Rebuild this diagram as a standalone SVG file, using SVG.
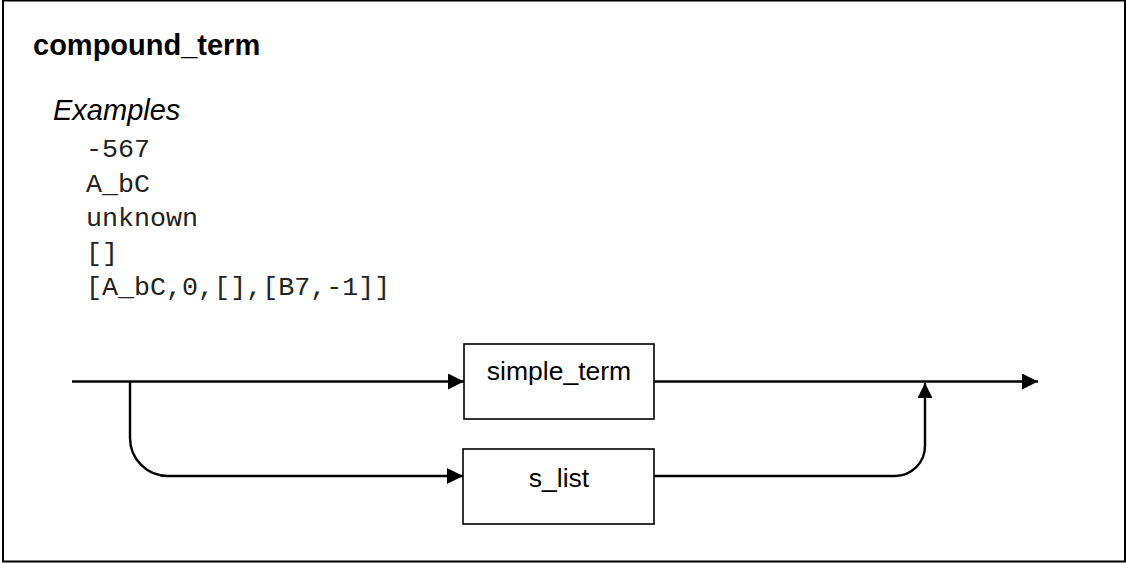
<svg xmlns="http://www.w3.org/2000/svg" width="1126" height="564" viewBox="0 0 1126 564">
  <style>
    .frame { fill: #ffffff; stroke: #000000; stroke-width: 2; }
    .box { fill: #ffffff; stroke: #000000; stroke-width: 1.6; }
    .wire { fill: none; stroke: #000000; stroke-width: 2.4; }
    .title { font-family: "Liberation Sans", Arial, sans-serif; font-weight: bold; font-size: 29px; fill: #000; }
    .ex { font-family: "Liberation Sans", Arial, sans-serif; font-style: italic; font-size: 29px; fill: #000; }
    .code { font-family: "Liberation Mono", "Courier New", monospace; font-size: 26.7px; fill: #222; }
    .label { font-family: "Liberation Sans", Arial, sans-serif; font-size: 26.5px; fill: #000; text-anchor: middle; }
  </style>
  <defs>
    <marker id="arrow" markerUnits="userSpaceOnUse" markerWidth="16" markerHeight="16" refX="16" refY="8" orient="auto" viewBox="0 0 16 16">
      <path d="M0,0 L16,8 L0,16 Z" fill="#000"/>
    </marker>
    <marker id="arrowS" markerUnits="userSpaceOnUse" markerWidth="15" markerHeight="15" refX="15" refY="7.5" orient="auto" viewBox="0 0 15 15">
      <path d="M0,0 L15,7.5 L0,15 Z" fill="#000"/>
    </marker>
  </defs>
  <rect width="1126" height="564" fill="#ffffff"/>
  <rect class="frame" x="3" y="0.5" width="1122" height="561"/>
  <g id="header">
    <text class="title" x="33" y="55">compound_term</text>
    <text class="ex" x="53" y="120">Examples</text>
    <text class="code" x="86" y="157">-567</text>
    <text class="code" x="86" y="191.5">A_bC</text>
    <text class="code" x="86" y="226">unknown</text>
    <text class="code" x="86" y="260.5">[]</text>
    <text class="code" x="86" y="295">[A_bC,0,[],[B7,-1]]</text>
  </g>
  <g id="connectors">
    <path class="wire" d="M72,381.5 H464" marker-end="url(#arrow)"/>
    <path class="wire" d="M130,381.5 V438 A38,38 0 0 0 168,476 H463" marker-end="url(#arrow)"/>
    <path class="wire" d="M654,381.5 H1038" marker-end="url(#arrow)"/>
    <path class="wire" d="M654,476 H895 A30,30 0 0 0 925,446 V383" marker-end="url(#arrowS)"/>
  </g>
  <g id="simple_term">
    <rect class="box" x="464" y="344" width="190" height="75"/>
    <text class="label" x="559" y="380">simple_term</text>
  </g>
  <g id="s_list">
    <rect class="box" x="463" y="449" width="191" height="75"/>
    <text class="label" x="559" y="486.5">s_list</text>
  </g>
</svg>
